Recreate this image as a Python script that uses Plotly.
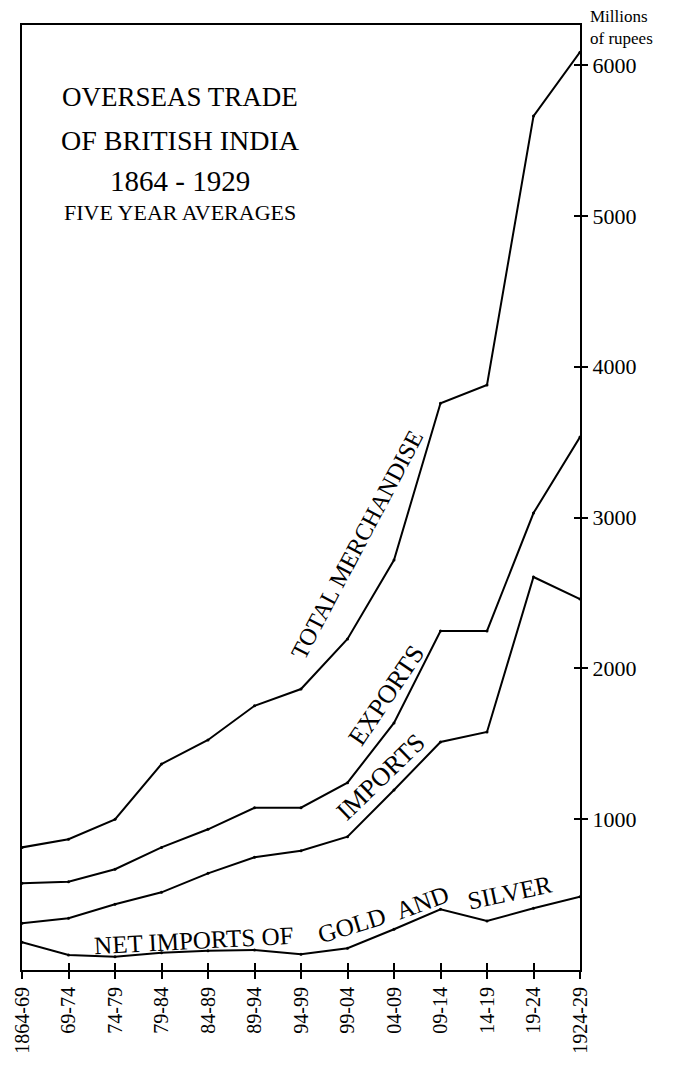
import plotly.graph_objects as go

periods = ["1864-69", "69-74", "74-79", "79-84", "84-89", "89-94", "94-99",
           "99-04", "04-09", "09-14", "14-19", "19-24", "1924-29"]
total_merchandise = [813, 867, 999, 1366, 1525, 1752, 1863, 2195, 2718, 3758, 3879, 5662, 6086]
exports = [575, 585, 668, 813, 933, 1076, 1076, 1242, 1638, 2248, 2248, 3030, 3534]
imports = [310, 343, 436, 515, 641, 747, 791, 884, 1193, 1512, 1578, 2606, 2460]
gold_silver = [184, 99, 88, 115, 128, 133, 104, 144, 270, 402, 325, 409, 486]
y_ticks = [1000, 2000, 3000, 4000, 5000, 6000]

FONT = "Liberation Serif"
xs = list(range(len(periods)))
YMAX = 6266
XR = [0, len(periods) - 1]

fig = go.Figure()
for series in [total_merchandise, exports, imports, gold_silver]:
    fig.add_trace(go.Scatter(
        x=xs, y=series, mode="lines+markers",
        line=dict(color="black", width=2),
        marker=dict(color="black", size=3),
        showlegend=False, hoverinfo="skip"))
# invisible trace for overlay axes
fig.add_trace(go.Scatter(x=[0], y=[0], xaxis="x2", yaxis="y2", mode="markers",
                         marker=dict(opacity=0), showlegend=False, hoverinfo="skip"))

# page body has an 8px margin; plot area aimed at x 22..580, y 25..970 in the page
fig.update_layout(
    width=667, height=1056,
    margin=dict(l=14, r=95, t=17, b=94, autoexpand=False),
    paper_bgcolor="white", plot_bgcolor="white",
    font=dict(family=FONT, color="black"),
    xaxis=dict(range=XR, tickmode="array", tickvals=xs, ticktext=periods,
               tickangle=-90, ticks="outside", ticklen=7, tickwidth=2, tickcolor="black",
               showline=True, linewidth=2, linecolor="black", mirror=True,
               automargin=False,
               showgrid=False, zeroline=False, tickfont=dict(size=20, family=FONT)),
    yaxis=dict(range=[0, YMAX], side="right", tickmode="array", tickvals=y_ticks,
               ticks="outside", ticklen=6, tickwidth=1.5, tickcolor="black",
               showline=True, linewidth=2, linecolor="black", mirror=True,
               automargin=False,
               showgrid=False, zeroline=False, tickfont=dict(size=22, family=FONT)),
    xaxis2=dict(range=XR, overlaying="x", side="bottom", tickmode="array", tickvals=xs,
                ticks="inside", ticklen=7, tickwidth=2, tickcolor="black",
                automargin=False,
                showticklabels=False, showgrid=False, zeroline=False, showline=False),
    yaxis2=dict(range=[0, YMAX], overlaying="y", side="right", tickmode="array",
                tickvals=y_ticks, ticks="inside", ticklen=6, tickwidth=1.5,
                tickcolor="black", showticklabels=False, showgrid=False,
                automargin=False,
                zeroline=False, showline=False),
)

def px_to_x(px):
    return (px - 22) / 46.5

def py_to_y(py):
    return (970 - py) * 6.63

def paper_x(px):
    return (px - 22) / 558

def paper_y(py):
    return (970 - py) / 945

anns = []
# Title
for text, py, size in [("OVERSEAS TRADE", 97, 27), ("OF BRITISH INDIA", 140, 28),
                       ("1864 - 1929", 181, 29), ("FIVE YEAR AVERAGES", 212, 22)]:
    anns.append(dict(xref="paper", yref="paper", x=paper_x(180), y=paper_y(py),
                     text=text, showarrow=False, xanchor="center", yanchor="middle",
                     font=dict(size=size, family=FONT)))
anns.append(dict(xref="paper", yref="paper", x=paper_x(588), y=paper_y(28),
                 text="Millions<br>of rupees", showarrow=False, xanchor="left",
                 yanchor="middle", align="left",
                 font=dict(size=17, family=FONT)))
# Line labels
for text, px, py, ang, size in [
        ("TOTAL MERCHANDISE", 357, 545, -62, 24),
        ("EXPORTS", 386, 695, -56, 26),
        ("IMPORTS", 380, 777, -44, 26),
        ("NET IMPORTS OF", 193, 940, -3, 25),
        ("GOLD", 351, 925, -17, 25),
        ("AND", 422, 902, -20, 25),
        ("SILVER", 510, 892, -12, 25)]:
    anns.append(dict(x=px_to_x(px), y=py_to_y(py), text=text, showarrow=False,
                     textangle=ang, xanchor="center", yanchor="middle",
                     font=dict(size=size, family=FONT)))
fig.update_layout(annotations=anns)

fig.write_html("out.html")
